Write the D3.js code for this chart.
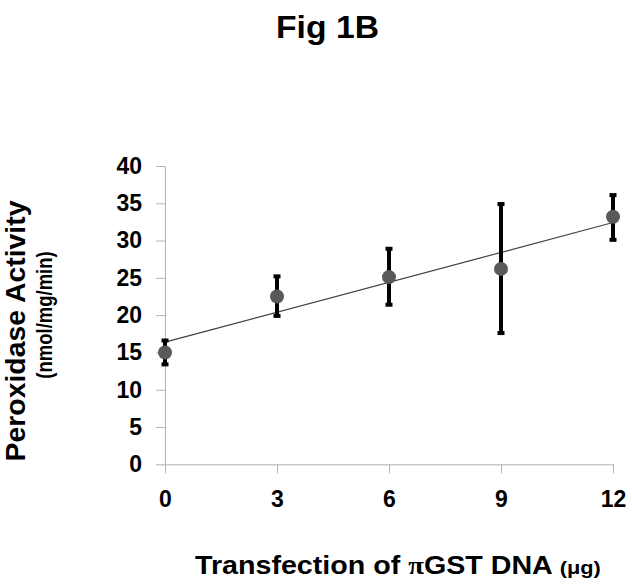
<!DOCTYPE html>
<html>
<head>
<meta charset="utf-8">
<script src="https://cdn.jsdelivr.net/npm/d3@7"></script>
<style>
  html, body { margin: 0; padding: 0; background: #fff; }
  svg { display: block; font-family: 'Liberation Sans', Arial, sans-serif; }
</style>
</head>
<body>
<div id="chart"></div>
<script>
// values
const doses = [0, 3, 6, 9, 12];
const activity = [15.0, 22.5, 25.1, 26.2, 33.2];
const errLow = [13.4, 19.9, 21.4, 17.6, 30.1];
const errHigh = [16.6, 25.2, 28.9, 34.9, 36.1];
const yTicks = [0, 5, 10, 15, 20, 25, 30, 35, 40];
const xTicks = [0, 3, 6, 9, 12];

const width = 632, height = 584;

const svg = d3.select('#chart').append('svg')
  .attr('width', width)
  .attr('height', height)
  .attr('viewBox', [0, 0, width, height].join(' '));

const x = d3.scaleLinear().domain([0, 12]).range([165, 613]);
const y = d3.scaleLinear().domain([0, 40]).range([464.3, 166]);

const axisColor = '#b3b3b3';
const tickFont = 23;

// y axis
const gy = svg.append('g')
  .attr('transform', `translate(${x(0)},0)`)
  .call(d3.axisLeft(y).tickValues(yTicks).tickSize(9).tickSizeOuter(0).tickPadding(14));
gy.select('.domain').attr('stroke', axisColor);
gy.selectAll('.tick line').attr('stroke', axisColor);
gy.selectAll('.tick text')
  .attr('fill', '#000')
  .attr('font-size', tickFont)
  .attr('font-weight', 'bold')
  .attr('font-family', "'Liberation Sans', Arial, sans-serif");

// x axis
const gx = svg.append('g')
  .attr('transform', `translate(0,${y(0)})`)
  .call(d3.axisBottom(x).tickValues(xTicks).tickSize(9).tickSizeOuter(0).tickPadding(17));
gx.select('.domain').attr('stroke', axisColor);
gx.selectAll('.tick line').attr('stroke', axisColor);
gx.selectAll('.tick text')
  .attr('fill', '#000')
  .attr('font-size', tickFont)
  .attr('font-weight', 'bold')
  .attr('font-family', "'Liberation Sans', Arial, sans-serif");

// linear trend line through the means
const mx = d3.mean(doses), my = d3.mean(activity);
const slope = d3.sum(doses, (d, i) => (d - mx) * (activity[i] - my)) / d3.sum(doses, d => (d - mx) ** 2);
const intercept = my - slope * mx;
const xDom = x.domain();
svg.append('line')
  .attr('x1', x(xDom[0])).attr('y1', y(intercept + slope * xDom[0]))
  .attr('x2', x(xDom[1])).attr('y2', y(intercept + slope * xDom[1]))
  .attr('stroke', '#404040')
  .attr('stroke-width', 1.2);

const rows = doses.map((d, i) => ({ dose: d, value: activity[i], lo: errLow[i], hi: errHigh[i] }));

// error bars
const gErr = svg.append('g');
gErr.selectAll('line')
  .data(rows)
  .join('line')
  .attr('x1', d => x(d.dose)).attr('x2', d => x(d.dose))
  .attr('y1', d => y(d.lo)).attr('y2', d => y(d.hi))
  .attr('stroke', '#000')
  .attr('stroke-width', 4);
gErr.selectAll('rect')
  .data(rows.flatMap(d => [{ dose: d.dose, v: d.lo }, { dose: d.dose, v: d.hi }]))
  .join('rect')
  .attr('x', d => x(d.dose) - 3.5)
  .attr('y', d => y(d.v) - 2)
  .attr('width', 7)
  .attr('height', 4)
  .attr('fill', '#000');

// markers
svg.append('g')
  .selectAll('circle')
  .data(rows)
  .join('circle')
  .attr('cx', d => x(d.dose))
  .attr('cy', d => y(d.value))
  .attr('r', 7)
  .attr('fill', '#595959');

// the source figure's horizontal text is a bit wide; stretch it to the measured width
const stretch = (g, left, baseline, targetWidth) => {
  const w = g.node().getBBox().width;
  g.attr('transform', `translate(${left},${baseline}) scale(${targetWidth / w},1)`);
};

// title
const gt = svg.append('g');
gt.append('text')
  .attr('font-size', 32)
  .attr('font-weight', 'bold')
  .text('Fig 1B');
stretch(gt, 276, 38, 103);

// y label
const yl = svg.append('g').attr('transform', 'translate(0,331) rotate(-90)');
yl.append('text')
  .attr('x', 0).attr('y', 25)
  .attr('text-anchor', 'middle')
  .attr('font-size', 28.4)
  .attr('font-weight', 'bold')
  .text('Peroxidase Activity');
yl.append('text')
  .attr('transform', 'translate(16,52) scale(1,1.22)')
  .attr('text-anchor', 'middle')
  .attr('font-size', 18.5)
  .attr('font-weight', 'bold')
  .text('(nmol/mg/min)');

// x label
const gxl = svg.append('g');
const xl = gxl.append('text')
  .attr('font-size', 25)
  .attr('font-weight', 'bold');
xl.append('tspan').text('Transfection of ');
xl.append('tspan').attr('font-family', "'Liberation Serif', serif").text('π');
xl.append('tspan').text('GST DNA ');
xl.append('tspan').attr('font-size', 19).text('(μg)');
stretch(gxl, 195, 574, 406);
</script>
</body>
</html>
